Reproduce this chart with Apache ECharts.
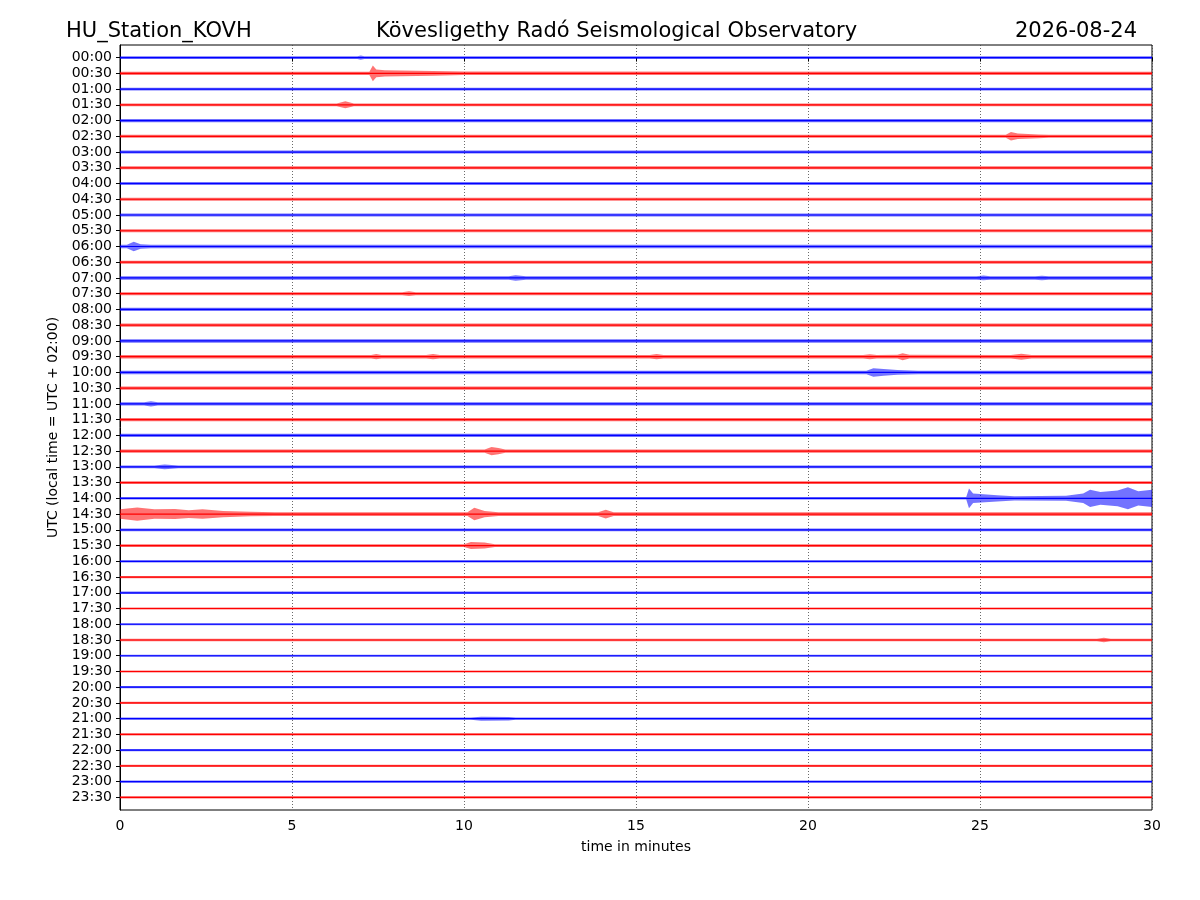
<!DOCTYPE html>
<html>
<head>
<meta charset="utf-8">
<script src="https://cdn.jsdelivr.net/npm/echarts@6/dist/echarts.min.js"></script>
<style>
  html, body { margin: 0; padding: 0; background: #fff; }
  #chart { width: 1200px; height: 900px; }
</style>
</head>
<body>
<div id="chart"></div>
<script>
// half-hour rows, top to bottom
const rowLabels = [
  "00:00","00:30","01:00","01:30","02:00","02:30","03:00","03:30",
  "04:00","04:30","05:00","05:30","06:00","06:30","07:00","07:30",
  "08:00","08:30","09:00","09:30","10:00","10:30","11:00","11:30",
  "12:00","12:30","13:00","13:30","14:00","14:30","15:00","15:30",
  "16:00","16:30","17:00","17:30","18:00","18:30","19:00","19:30",
  "20:00","20:30","21:00","21:30","22:00","22:30","23:00","23:30"
];

// background noise half-width per row (in row spacings)
const noiseLevel = [
  0.09, 0.10, 0.09, 0.09, 0.10, 0.10, 0.09, 0.09,
  0.09, 0.10, 0.09, 0.10, 0.11, 0.10, 0.11, 0.10,
  0.10, 0.10, 0.11, 0.11, 0.11, 0.10, 0.10, 0.10,
  0.10, 0.10, 0.09, 0.09, 0.08, 0.12, 0.09, 0.09,
  0.07, 0.07, 0.08, 0.07, 0.07, 0.08, 0.07, 0.07,
  0.07, 0.07, 0.07, 0.07, 0.07, 0.07, 0.07, 0.07
];

// events: [row, [[minute, half-amplitude], ...]]
const events = [
  [0, [[6.9, 0.09], [7.0, 0.14], [7.1, 0.09]]],
  [1, [[7.25, 0.1], [7.35, 0.5], [7.45, 0.25], [7.7, 0.2], [9.1, 0.15], [10.0, 0.11]]],
  [3, [[6.3, 0.09], [6.55, 0.22], [6.8, 0.09]]],
  [5, [[25.75, 0.1], [25.9, 0.27], [26.1, 0.17], [26.7, 0.12], [27.0, 0.1]]],
  [12, [[0.2, 0.11], [0.4, 0.3], [0.6, 0.14], [0.9, 0.11]]],
  [14, [[11.3, 0.11], [11.5, 0.17], [11.8, 0.11], [24.9, 0.11], [25.1, 0.15], [25.3, 0.11], [26.6, 0.11], [26.8, 0.14], [27.0, 0.11]]],
  [15, [[8.2, 0.1], [8.4, 0.15], [8.6, 0.1]]],
  [19, [[7.3, 0.11], [7.45, 0.17], [7.6, 0.11], [8.9, 0.11], [9.1, 0.17], [9.3, 0.11], [15.4, 0.11], [15.6, 0.17], [15.8, 0.11],
        [21.6, 0.11], [21.8, 0.16], [22.0, 0.11], [22.6, 0.12], [22.75, 0.22], [22.95, 0.12], [25.9, 0.11], [26.2, 0.19], [26.5, 0.11]]],
  [20, [[21.7, 0.11], [21.9, 0.27], [22.2, 0.22], [22.6, 0.15], [23.2, 0.11]]],
  [22, [[0.7, 0.1], [0.9, 0.16], [1.1, 0.1]]],
  [25, [[10.6, 0.1], [10.8, 0.26], [11.0, 0.2], [11.2, 0.1]]],
  [26, [[1.0, 0.09], [1.3, 0.15], [1.7, 0.09]]],
  [28, [[24.6, 0.08], [24.68, 0.63], [24.8, 0.3], [25.5, 0.2], [26.0, 0.13], [27.5, 0.16], [28.0, 0.3], [28.2, 0.55],
        [28.5, 0.4], [29.0, 0.5], [29.3, 0.7], [29.6, 0.45], [30, 0.55]]],
  [29, [[0, 0.3], [0.5, 0.42], [1.0, 0.3], [1.6, 0.32], [2.0, 0.25], [2.4, 0.3], [3.0, 0.2], [3.8, 0.14], [4.5, 0.12],
        [10.1, 0.12], [10.3, 0.4], [10.6, 0.2], [11.0, 0.12], [13.9, 0.12], [14.12, 0.28], [14.35, 0.12]]],
  [31, [[10.0, 0.09], [10.2, 0.22], [10.6, 0.19], [10.9, 0.09]]],
  [37, [[28.4, 0.08], [28.6, 0.14], [28.8, 0.08]]],
  [42, [[10.2, 0.07], [10.5, 0.13], [11.3, 0.11], [11.5, 0.07]]]
];

const rowColors = ["#0000ff", "#ff0000"];

// envelope per row: endpoints at noise level plus event points
const envelopes = rowLabels.map((_, i) => {
  let pts = [[0, noiseLevel[i]], [30, noiseLevel[i]]];
  events.filter(e => e[0] === i).forEach(e => { pts = pts.concat(e[1]); });
  pts.sort((a, b) => a[0] - b[0]);
  const out = [];
  pts.forEach(p => {
    const last = out[out.length - 1];
    if (last && last[0] === p[0]) last[1] = Math.max(last[1], p[1]);
    else out.push([p[0], p[1]]);
  });
  return out;
});

const myChart = echarts.init(document.getElementById("chart"));
const font = "DejaVu Sans";
const titleStyle = { fontFamily: font, fontSize: 21, fontWeight: "normal", color: "#000" };

const option = {
  backgroundColor: "#fff",
  animation: false,
  title: [
    { text: "HU_Station_KOVH", left: 61, top: 16, textStyle: titleStyle },
    { text: "Kövesligethy Radó Seismological Observatory", left: 371, top: 16, textStyle: titleStyle },
    { text: "2026-08-24", right: 58, top: 16, textStyle: titleStyle }
  ],
  grid: { left: 120, right: 48, top: 45, bottom: 90, show: true, borderColor: "#000", borderWidth: 1, backgroundColor: "transparent" },
  xAxis: {
    type: "value", min: 0, max: 30, interval: 5,
    name: "time in minutes", nameLocation: "middle", nameGap: 30,
    nameTextStyle: { fontFamily: font, fontSize: 14, color: "#000" },
    axisLine: { show: true, lineStyle: { color: "#000" } },
    axisTick: { show: true, inside: false, length: 4, lineStyle: { color: "#000" } },
    axisLabel: { fontFamily: font, fontSize: 14, color: "#000", margin: 9 },
    splitLine: { show: true, lineStyle: { color: "#444", type: [1, 2], width: 0.8 } }
  },
  yAxis: {
    type: "value", min: -0.8, max: 47.8, inverse: true,
    name: "UTC (local time = UTC + 02:00)", nameLocation: "middle", nameGap: 57, nameRotate: 90,
    nameTextStyle: { fontFamily: font, fontSize: 14, color: "#000" },
    axisLine: { show: true, lineStyle: { color: "#000" } },
    axisTick: { show: true, length: 4, lineStyle: { color: "#000" }, customValues: rowLabels.map((_, i) => i) },
    axisLabel: {
      fontFamily: font, fontSize: 14, color: "#000", margin: 8,
      customValues: rowLabels.map((_, i) => i),
      formatter: v => rowLabels[Math.round(v)] || ""
    },
    splitLine: { show: false }
  },
  series: [{
    type: "custom",
    clip: true,
    data: rowLabels.map((_, i) => [i]),
    encode: { y: 0 },
    renderItem: function (params, api) {
      const i = api.value(0);
      const env = envelopes[i];
      const color = rowColors[i % 2];
      const top = env.map(p => api.coord([p[0], i - p[1]]));
      const bottom = env.slice().reverse().map(p => api.coord([p[0], i + p[1]]));
      const a = api.coord([0, i]);
      const b = api.coord([30, i]);
      return {
        type: "group",
        children: [
          { type: "polygon", shape: { points: top.concat(bottom) }, style: { fill: color, opacity: 0.55 } },
          { type: "line", shape: { x1: a[0], y1: a[1], x2: b[0], y2: b[1] }, style: { stroke: color, lineWidth: 1.2 } }
        ]
      };
    }
  }]
};

myChart.setOption(option);
window.onresize = function () {
  myChart.resize();
};
</script>
</body>
</html>
